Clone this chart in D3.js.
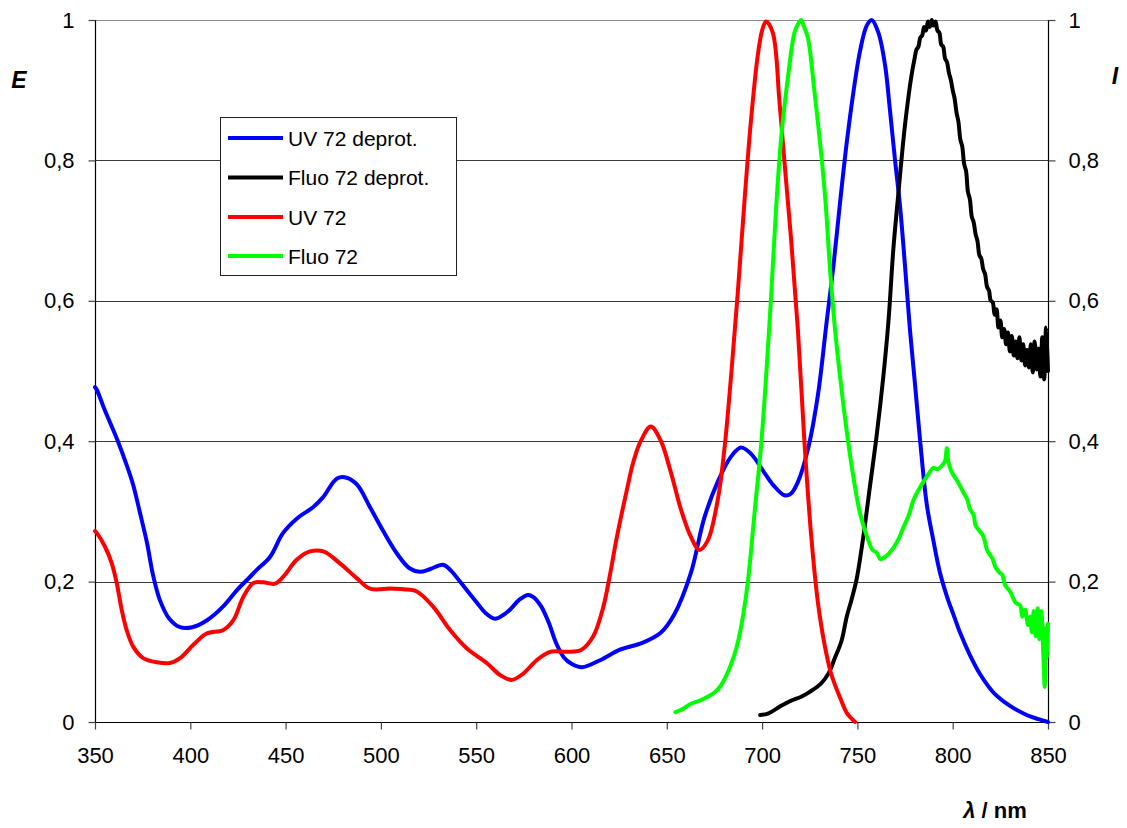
<!DOCTYPE html>
<html>
<head>
<meta charset="utf-8">
<script src="https://cdn.jsdelivr.net/npm/d3@7"></script>
<style>
  html, body { margin: 0; padding: 0; background: #fff; }
  svg { display: block; font-family: "Liberation Sans", Arial, sans-serif; }
</style>
</head>
<body>
<svg id="chart" width="1127" height="828"></svg>
<script>
// Absorption (E) and fluorescence (I) spectra, normalised, as [wavelength nm, value]

const uvDeprot = [
  [350,0.477],[351,0.473],[355,0.445],[358,0.426],[362,0.400],[367,0.363],[370,0.338],[373.6,0.298],
  [377.3,0.255],[380.4,0.210],[384,0.174],[389,0.147],[394.6,0.135],[401,0.135],[408.8,0.145],
  [417,0.164],[424.5,0.188],[430,0.203],[435,0.217],[441.8,0.235],[448.6,0.269],[456,0.290],
  [464.4,0.306],[469.6,0.320],[477,0.347],[482,0.348],[487.5,0.338],[494.3,0.306],[501,0.273],
  [508.4,0.240],[515,0.219],[520.4,0.214],[526,0.218],[532.6,0.224],[537,0.215],[541.5,0.200],
  [550.4,0.170],[555,0.155],[559.9,0.147],[564,0.152],[567.7,0.160],[573,0.175],[577.2,0.181],
  [580,0.178],[584,0.165],[588,0.142],[592,0.112],[596,0.092],[600,0.083],[605.5,0.078],[615,0.088],
  [625.4,0.103],[637.5,0.113],[646.8,0.127],[653.9,0.153],[662.6,0.212],[669.6,0.290],[676.7,0.342],
  [683.7,0.378],[688.9,0.391],[694.2,0.382],[701.2,0.355],[706,0.337],[711.7,0.323],[715,0.325],
  [718.8,0.342],[724,0.388],[729.3,0.466],[733.9,0.571],[737.4,0.649],[740.9,0.740],[744.4,0.825],
  [747.9,0.897],[751.4,0.956],[754.9,0.992],[757.5,1.000],[761,0.982],[764.5,0.936],[767.1,0.871],
  [769.8,0.799],[772.4,0.734],[775,0.649],[777.6,0.558],[780.3,0.479],[782.9,0.401],[786.4,0.310],
  [789.9,0.258],[793.4,0.212],[797.7,0.173],[800.4,0.153],[803.9,0.127],[809.1,0.095],[814.4,0.068],
  [821.4,0.042],[830.1,0.023],[838.8,0.010],[845,0.004],[850,0.000]
];

const fluoDeprot = [
  [699,0.010],[703,0.012],[710,0.023],[715,0.030],[720.5,0.036],[725,0.043],[731,0.055],[735,0.070],
  [738,0.090],[741.6,0.115],[744.4,0.150],[747,0.175],[749.7,0.205],[753.1,0.264],[756.6,0.336],
  [760.1,0.408],[763.6,0.492],[766.3,0.571],[768.9,0.675],[771.5,0.753],[775,0.851],[778.5,0.923],
  [780,0.945],[781,0.958],[782,0.962],[783,0.975],[784,0.978],[785,0.990],[786,0.985],[787,0.998],
  [788,0.990],[789,1.000],[790,0.992],[791,0.998],[792,0.985],[793,0.982],[794,0.965],[795,0.962],
  [796,0.945],[797,0.940],[798,0.925],[799,0.915],[800,0.900],[801,0.888],[802,0.868],[803,0.855],
  [804,0.830],[805,0.820],[806,0.795],[807,0.785],[808,0.755],[809,0.745],[810,0.720],[811,0.712],
  [812,0.695],[813,0.685],[814,0.665],[815,0.660],[816,0.645],[817,0.638],[818,0.620],[819,0.615],
  [820,0.600],[821,0.598],[822,0.580],[823,0.588],[824,0.562],[825,0.572],[826,0.548],[827,0.560],
  [828,0.538],[829,0.555],[830,0.528],[831,0.550],[832,0.522],[833,0.542],[834,0.518],[835,0.548],
  [836,0.515],[837,0.538],[838,0.508],[839,0.530],[840,0.505],[841,0.538],[842,0.498],[843,0.542],
  [844,0.502],[845,0.532],[846,0.492],[847,0.548],[848,0.488],[849,0.562],[850,0.500]
];

const uvProt = [
  [350,0.272],[351,0.269],[355.2,0.250],[358.8,0.226],[361.4,0.198],[364,0.160],[366.6,0.131],
  [370.1,0.107],[375.3,0.091],[382.4,0.085],[389.3,0.084],[394.6,0.091],[401.6,0.110],[408.6,0.126],
  [417.3,0.131],[422.6,0.145],[427.8,0.178],[433.1,0.198],[438.3,0.199],[444.4,0.197],[448.8,0.207],
  [455.8,0.231],[462.8,0.243],[469.8,0.243],[478.5,0.226],[487.3,0.205],[494.3,0.190],[504.8,0.190],
  [511.8,0.189],[518.8,0.186],[527.5,0.164],[536.3,0.131],[545,0.105],[555.5,0.084],[562.5,0.067],
  [568.6,0.060],[574.7,0.069],[581.7,0.088],[588.7,0.100],[597.5,0.100],[605.3,0.103],[611.4,0.122],
  [616.7,0.164],[620.2,0.210],[623.7,0.262],[629,0.330],[632.4,0.370],[636.3,0.400],[641.6,0.421],
  [646.8,0.401],[652.1,0.356],[657.4,0.303],[662.6,0.264],[667,0.245],[671.4,0.258],[676.7,0.316],
  [680.2,0.388],[683.7,0.492],[687.2,0.610],[690.7,0.740],[694.2,0.858],[697.7,0.949],[700,0.985],
  [702.1,0.998],[705.6,0.982],[709.1,0.884],[711.7,0.799],[715.2,0.688],[718.8,0.558],[722.3,0.395],
  [725.8,0.264],[729.3,0.170],[732.8,0.110],[736.3,0.068],[741.6,0.030],[744.4,0.013],[748.8,0.000]
];

const fluoProt = [
  [654.5,0.014],[658,0.018],[662.6,0.026],[667,0.030],[671.4,0.036],[675,0.042],[678.4,0.052],
  [681,0.065],[683.7,0.082],[686.5,0.105],[688.9,0.134],[692.5,0.199],[696,0.297],[699.5,0.395],
  [702.1,0.492],[704.8,0.610],[707.4,0.734],[710,0.832],[713.5,0.917],[717,0.982],[719,0.995],
  [720.5,1.000],[722,0.990],[724,0.975],[727.5,0.897],[731,0.810],[733.3,0.740],[735.7,0.643],
  [738.3,0.558],[740.9,0.492],[744.4,0.414],[747.9,0.349],[751.4,0.297],[755.8,0.258],[758,0.245],
  [760.2,0.241],[762,0.232],[764.5,0.235],[766.5,0.240],[768.9,0.248],[771.5,0.260],[774.1,0.277],
  [777,0.295],[779.4,0.316],[782,0.330],[784.6,0.342],[787,0.352],[789.9,0.362],[792,0.360],
  [794.3,0.365],[796,0.372],[796.9,0.390],[797.8,0.370],[799.5,0.356],[802,0.345],[803.9,0.336],
  [806,0.325],[807.5,0.318],[809.1,0.303],[811,0.295],[812,0.280],[814.4,0.271],[816,0.265],
  [818,0.245],[819.6,0.238],[821,0.232],[822.5,0.220],[824.9,0.212],[826,0.210],[827.5,0.195],
  [830.1,0.186],[831.5,0.178],[833,0.170],[835.4,0.166],[836.5,0.150],[838,0.160],[839.5,0.138],
  [840.6,0.150],[841.5,0.128],[842.5,0.158],[843.5,0.122],[844.5,0.162],[845.5,0.118],[846.5,0.158],
  [847.5,0.100],[848.3,0.050],[849,0.135],[849.5,0.090],[850,0.140]
];

const seriesNames  = ["UV 72 deprot.", "Fluo 72 deprot.", "UV 72", "Fluo 72"];
const seriesColors = ["#0000ff", "#000000", "#ff0000", "#00ff00"];
const seriesData   = [uvDeprot, fluoDeprot, uvProt, fluoProt];

const xTicks = [350, 400, 450, 500, 550, 600, 650, 700, 750, 800, 850];
const yTicks = [0, 0.2, 0.4, 0.6, 0.8, 1];
const yTickLabels = ["0", "0,2", "0,4", "0,6", "0,8", "1"];

// ---- layout ----
const svg = d3.select("#chart");
const plotLeft = 95, plotRight = 1048, plotTop = 20, plotBottom = 722;

const x = d3.scaleLinear().domain([350, 850]).range([plotLeft, plotRight]);
const y = d3.scaleLinear().domain([0, 1]).range([plotBottom, plotTop]);

svg.append("rect").attr("width", 1127).attr("height", 828).attr("fill", "#fff");

// horizontal gridlines
svg.append("g")
  .selectAll("line")
  .data(yTicks.filter(d => d > 0))
  .join("line")
  .attr("x1", plotLeft).attr("x2", plotRight)
  .attr("y1", d => Math.round(y(d)) + 0.5).attr("y2", d => Math.round(y(d)) + 0.5)
  .attr("stroke", d => d === 1 ? "#8c8c8c" : "#3a3a3a")
  .attr("stroke-width", 1);

// axes
const fontSize = 22;
const xAxis = svg.append("g")
  .attr("transform", `translate(0,${plotBottom + 0.5})`)
  .call(d3.axisBottom(x).tickValues(xTicks).tickSize(7).tickPadding(18).tickFormat(d3.format("d")));
const yAxisL = svg.append("g")
  .attr("transform", `translate(${plotLeft + 0.5},0)`)
  .call(d3.axisLeft(y).tickValues(yTicks).tickSize(7).tickPadding(14)
        .tickFormat((d, i) => yTickLabels[i]));
const yAxisR = svg.append("g")
  .attr("transform", `translate(${plotRight + 0.5},0)`)
  .call(d3.axisRight(y).tickValues(yTicks).tickSize(7).tickPadding(13)
        .tickFormat((d, i) => yTickLabels[i]));

[xAxis, yAxisL, yAxisR].forEach(g => {
  g.select(".domain").attr("stroke", "#000").attr("stroke-width", 1.2);
  g.selectAll(".tick line").attr("stroke", "#444").attr("stroke-width", 1.2);
  g.selectAll(".tick text")
    .attr("font-family", "Liberation Sans, Arial, sans-serif")
    .attr("font-size", fontSize).attr("fill", "#000");
});
// plain frame lines without d3's outer ticks
xAxis.select(".domain").attr("d", `M${plotLeft},0H${plotRight}`);
yAxisL.select(".domain").attr("d", `M0,${plotTop}V${plotBottom}`);
yAxisR.select(".domain").attr("d", `M0,${plotTop}V${plotBottom}`);

// spectra
const line = d3.line()
  .x(d => x(d[0]))
  .y(d => y(d[1]))
  .curve(d3.curveCatmullRom.alpha(0.5));

svg.append("g")
  .selectAll("path")
  .data(seriesData)
  .join("path")
  .attr("d", line)
  .attr("fill", "none")
  .attr("stroke", (d, i) => seriesColors[i])
  .attr("stroke-width", 4)
  .attr("stroke-linejoin", "round")
  .attr("stroke-linecap", "round");

// legend
const legend = svg.append("g");
legend.append("rect")
  .attr("x", 220.5).attr("y", 117.5).attr("width", 236).attr("height", 158)
  .attr("fill", "#fff").attr("stroke", "#222").attr("stroke-width", 1);
const rowY = [138, 177.5, 217, 256];
seriesNames.forEach((name, i) => {
  legend.append("line")
    .attr("x1", 228).attr("x2", 283).attr("y1", rowY[i]).attr("y2", rowY[i])
    .attr("stroke", seriesColors[i]).attr("stroke-width", 4);
  legend.append("text")
    .attr("x", 288).attr("y", rowY[i] + 7.5)
    .attr("font-size", 21).attr("fill", "#000")
    .text(name);
});

// axis titles
svg.append("text")
  .attr("x", 19).attr("y", 88).attr("text-anchor", "middle")
  .attr("font-size", 23).attr("font-weight", "bold").attr("font-style", "italic")
  .text("E");
svg.append("text")
  .attr("x", 1115).attr("y", 84).attr("text-anchor", "middle")
  .attr("font-size", 23).attr("font-weight", "bold").attr("font-style", "italic")
  .text("I");
const xl = svg.append("text")
  .attr("x", 995).attr("y", 818).attr("text-anchor", "middle")
  .attr("font-size", 22).attr("font-weight", "bold");
xl.append("tspan").attr("font-style", "italic").text("λ");
xl.append("tspan").text(" / nm");
</script>
</body>
</html>
